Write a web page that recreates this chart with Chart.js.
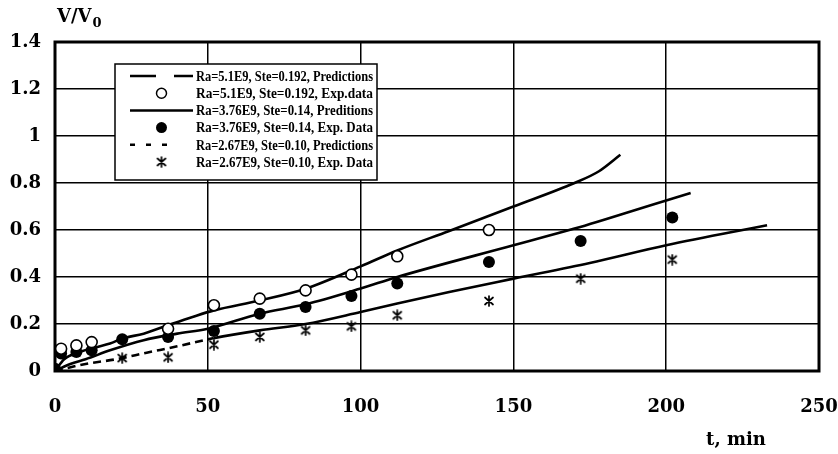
<!DOCTYPE html>
<html>
<head>
<meta charset="utf-8">
<script src="https://cdn.jsdelivr.net/npm/chart.js@4/dist/chart.umd.min.js"></script>
<style>
  html, body { margin: 0; padding: 0; background: #fff; }
  #wrap { width: 838px; height: 454px; }
</style>
</head>
<body>
<div id="wrap"><canvas id="c"></canvas></div>
<script>
// ---- Predicted solidification curves (t in min, V/V0) ----
const pred51T  = [0, 3, 8, 13, 18, 22, 29, 37, 45, 52, 67, 82, 100, 112, 129, 150, 170, 178, 185];
const pred51V  = [0, 0.05, 0.08, 0.10, 0.117, 0.138, 0.159, 0.195, 0.23, 0.258, 0.30, 0.35, 0.445, 0.513, 0.596, 0.70, 0.80, 0.85, 0.92];

const pred376T = [0, 5, 10, 18, 29, 40, 50, 67, 82, 100, 112, 150, 170, 200, 208];
const pred376V = [0, 0.03, 0.05, 0.088, 0.131, 0.159, 0.18, 0.244, 0.284, 0.351, 0.40, 0.535, 0.606, 0.726, 0.757];

const pred267T = [0, 10, 20, 30, 40, 52, 67, 82, 100, 112, 129, 150, 175, 200, 233];
const pred267V = [0, 0.03, 0.05, 0.078, 0.105, 0.14, 0.173, 0.2, 0.251, 0.287, 0.336, 0.393, 0.46, 0.535, 0.62];

// ---- Experimental data ----
const exp51T  = [2, 7, 12, 37, 52, 67, 82, 97, 112, 142];
const exp51V  = [0.095, 0.109, 0.123, 0.18, 0.28, 0.308, 0.343, 0.41, 0.488, 0.60];

const exp376T = [0, 2, 7, 12, 22, 37, 52, 67, 82, 97, 112, 142, 172, 202];
const exp376V = [0.01, 0.074, 0.081, 0.088, 0.135, 0.145, 0.17, 0.244, 0.272, 0.319, 0.372, 0.464, 0.553, 0.653];

const exp267T = [22, 37, 52, 67, 82, 97, 112, 142, 172, 202];
const exp267V = [0.055, 0.058, 0.112, 0.145, 0.173, 0.19, 0.237, 0.298, 0.393, 0.474];

// ---- Labels ----
const seriesNames = [
  'Ra=5.1E9, Ste=0.192, Predictions',
  'Ra=5.1E9, Ste=0.192, Exp.data',
  'Ra=3.76E9, Ste=0.14, Preditions',
  'Ra=3.76E9, Ste=0.14, Exp. Data',
  'Ra=2.67E9, Ste=0.10, Predictions',
  'Ra=2.67E9, Ste=0.10, Exp. Data'
];
const xTickLabels = ['0', '50', '100', '150', '200', '250'];
const yTickLabels = ['0', '0.2', '0.4', '0.6', '0.8', '1', '1.2', '1.4'];
const xTitle = 't, min';
const yTitleMain = 'V/V';
const yTitleSub = '0';

const pts = (t, v) => t.map((x, i) => ({ x, y: v[i] }));

// asterisk marker: an X crossed by a vertical stem
function asteriskMarker(size) {
  const c = document.createElement('canvas');
  c.width = c.height = size;
  const g = c.getContext('2d');
  g.strokeStyle = '#000';
  g.lineWidth = 1.7;
  g.lineCap = 'round';
  const s = size, h = s / 2;
  g.beginPath();
  g.moveTo(2, 2.5); g.lineTo(s - 2, s - 2.5);
  g.moveTo(s - 2, 2.5); g.lineTo(2, s - 2.5);
  g.moveTo(h, 1); g.lineTo(h, s - 1);
  g.stroke();
  return c;
}
const star = asteriskMarker(12);

const TICK_FONT = { family: 'DejaVu Serif', size: 18, weight: 'bold' };

// frame, legend and axis titles
const decor = {
  id: 'decor',
  beforeDatasetsDraw(chart) {
    const { ctx, chartArea: a } = chart;
    ctx.save();
    ctx.strokeStyle = '#000';
    ctx.lineWidth = 3;
    ctx.strokeRect(a.left, a.top, a.right - a.left, a.bottom - a.top);
    ctx.restore();
  },
  afterDatasetsDraw(chart) {
    const { ctx, chartArea: a } = chart;
    ctx.save();
    // legend box
    const bx = a.left + 60, by = a.top + 22, bw = 262, bh = 116;
    ctx.fillStyle = '#fff';
    ctx.fillRect(bx, by, bw, bh);
    ctx.strokeStyle = '#000';
    ctx.lineWidth = 1.5;
    ctx.strokeRect(bx, by, bw, bh);

    const rowY = i => by + 12 + i * 17.2;
    const sx0 = bx + 15, sx1 = bx + 78, mx = (sx0 + sx1) / 2;
    ctx.lineWidth = 2.5;
    // row 0: long dashes
    ctx.setLineDash([26, 18]);
    ctx.beginPath(); ctx.moveTo(sx0, rowY(0)); ctx.lineTo(sx1, rowY(0)); ctx.stroke();
    // row 2: solid
    ctx.setLineDash([]);
    ctx.beginPath(); ctx.moveTo(sx0, rowY(2)); ctx.lineTo(sx1, rowY(2)); ctx.stroke();
    // row 4: short dashes
    ctx.setLineDash([5, 11]);
    ctx.beginPath(); ctx.moveTo(sx0, rowY(4)); ctx.lineTo(sx1 - 20, rowY(4)); ctx.stroke();
    ctx.setLineDash([]);
    // row 1: open circle
    ctx.lineWidth = 1.5;
    ctx.fillStyle = '#fff';
    ctx.beginPath(); ctx.arc(mx, rowY(1), 5, 0, Math.PI * 2); ctx.fill(); ctx.stroke();
    // row 3: filled circle
    ctx.fillStyle = '#000';
    ctx.beginPath(); ctx.arc(mx, rowY(3), 5.5, 0, Math.PI * 2); ctx.fill();
    // row 5: asterisk
    ctx.drawImage(star, mx - 6, rowY(5) - 6);

    ctx.fillStyle = '#000';
    ctx.font = "bold 15px 'Liberation Serif'";
    ctx.textBaseline = 'middle';
    ctx.textAlign = 'left';
    seriesNames.forEach((s, i) => ctx.fillText(s, sx1 + 3, rowY(i) + 1, 177));

    // axis titles
    ctx.font = "bold 18px 'DejaVu Serif'";
    ctx.textBaseline = 'alphabetic';
    ctx.fillText(yTitleMain, a.left + 2, 22);
    const w = ctx.measureText(yTitleMain).width;
    ctx.font = "bold 13px 'DejaVu Serif'";
    ctx.fillText(yTitleSub, a.left + 3 + w, 27);
    ctx.font = "bold 18px 'DejaVu Serif'";
    ctx.textAlign = 'center';
    ctx.fillText(xTitle, a.right - 83, 445);
    ctx.restore();
  }
};

new Chart(document.getElementById('c'), {
  type: 'scatter',
  data: {
    datasets: [
      { label: seriesNames[0], type: 'line', data: pts(pred51T, pred51V), borderColor: '#000', borderWidth: 2.6,
        pointRadius: 0, cubicInterpolationMode: 'monotone', order: 2 },
      { label: seriesNames[1], data: pts(exp51T, exp51V), pointStyle: 'circle', pointRadius: 5.5,
        backgroundColor: '#fff', borderColor: '#000', borderWidth: 1.6, order: 0 },
      { label: seriesNames[2], type: 'line', data: pts(pred376T, pred376V), borderColor: '#000', borderWidth: 2.6,
        pointRadius: 0, cubicInterpolationMode: 'monotone', order: 2 },
      { label: seriesNames[3], data: pts(exp376T, exp376V), pointStyle: 'circle', pointRadius: 6,
        backgroundColor: '#000', borderColor: '#000', borderWidth: 0, order: 1 },
      { label: seriesNames[4], type: 'line', data: pts(pred267T, pred267V), borderColor: '#000', borderWidth: 2.6,
        pointRadius: 0, cubicInterpolationMode: 'monotone', order: 2,
        segment: { borderDash: c => (c.p1.parsed.x <= 52 ? [8, 5] : undefined) } },
      { label: seriesNames[5], data: pts(exp267T, exp267V), pointStyle: star, pointRadius: 6, order: 0 }
    ]
  },
  options: {
    responsive: true,
    maintainAspectRatio: false,
    animation: false,
    layout: { padding: { left: 7, right: 19, top: 42, bottom: 0 } },
    plugins: { legend: { display: false }, tooltip: { enabled: false } },
    scales: {
      x: {
        type: 'linear', min: 0, max: 250,
        grid: { color: '#000', lineWidth: 1.5, drawTicks: false },
        border: { display: false },
        ticks: { stepSize: 50, padding: 26, color: '#000', font: TICK_FONT,
                 callback: v => xTickLabels[Math.round(v / 50)] },
        afterFit(s) { s.height = 83; s.paddingLeft = 0; s.paddingRight = 0; }
      },
      y: {
        min: 0, max: 1.4,
        grid: { color: '#000', lineWidth: 1.5, drawTicks: false },
        border: { display: false },
        ticks: { stepSize: 0.2, padding: 14, color: '#000', font: TICK_FONT,
                 callback: v => yTickLabels[Math.round(v / 0.2)] },
        afterFit(s) { s.width = 48; s.paddingTop = 0; s.paddingBottom = 0; }
      }
    }
  },
  plugins: [decor]
});
</script>
</body>
</html>
